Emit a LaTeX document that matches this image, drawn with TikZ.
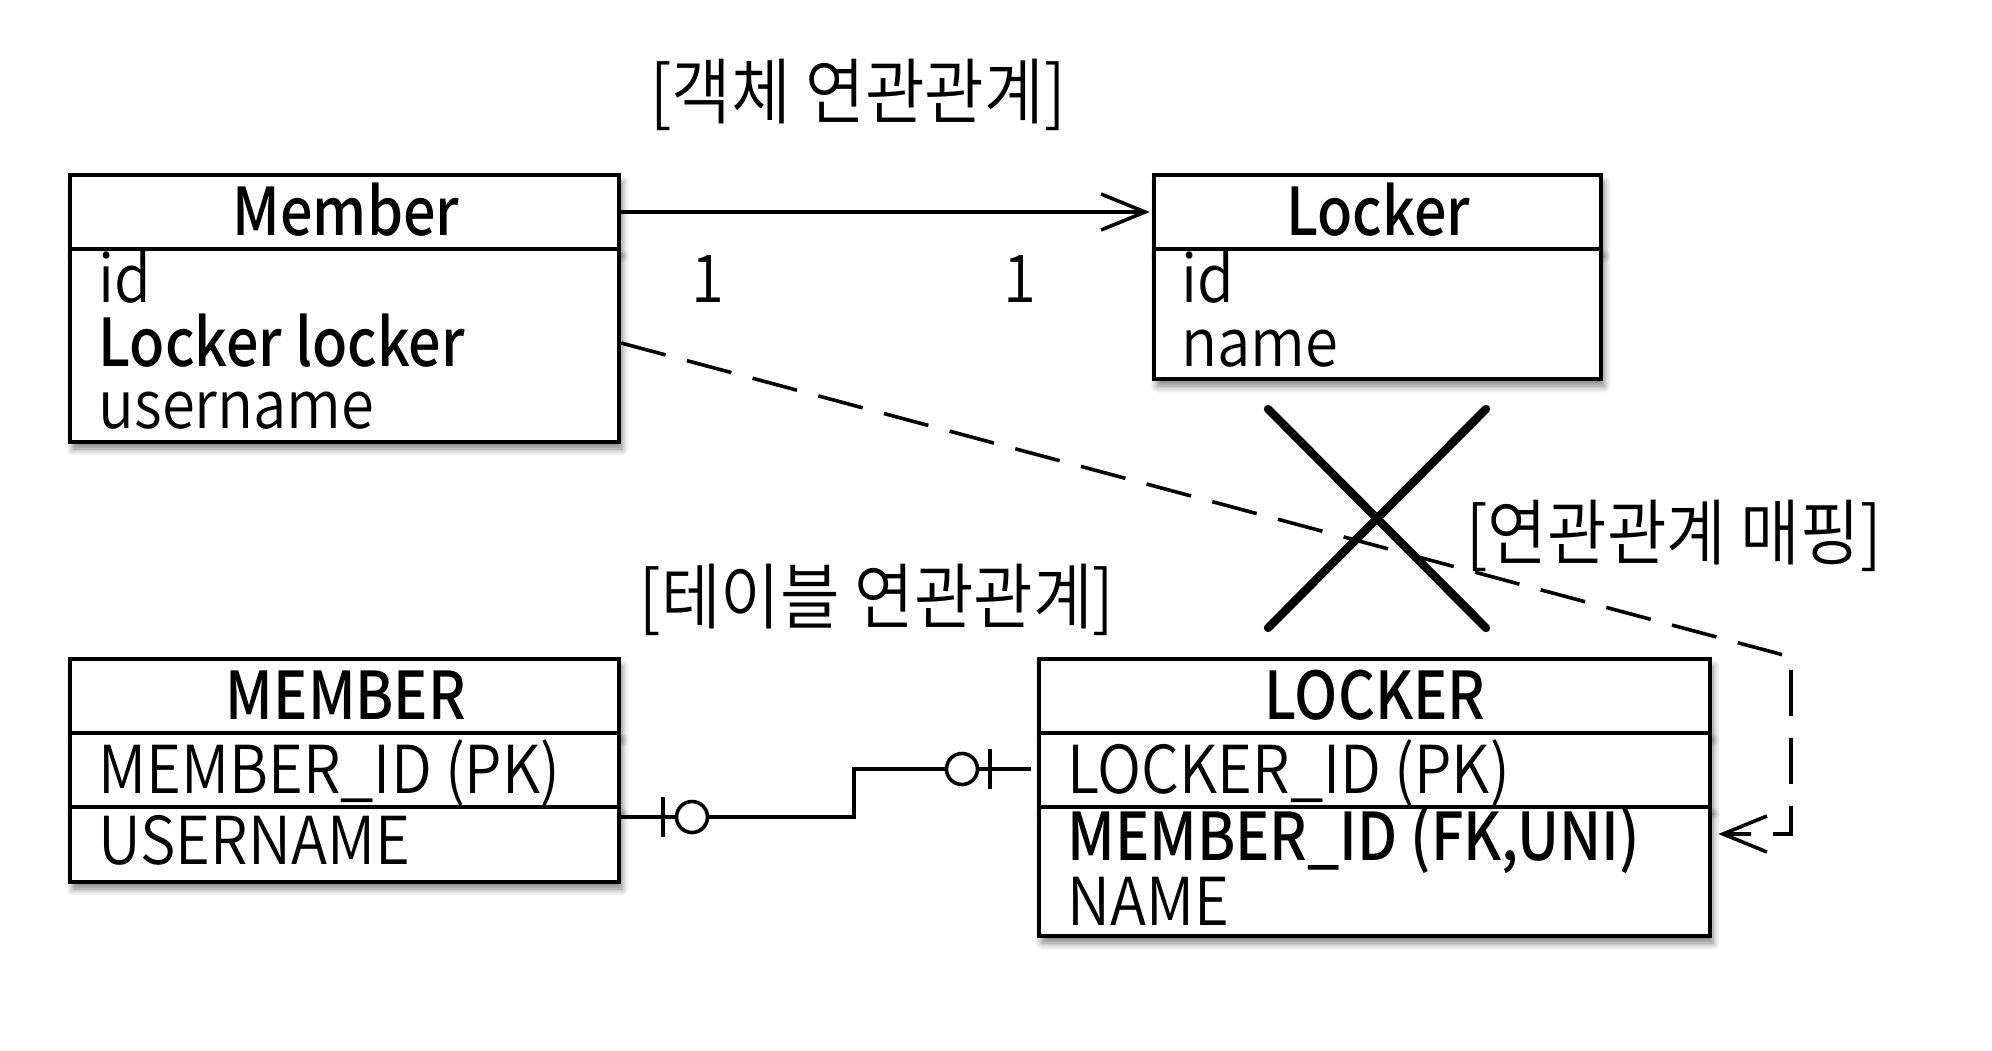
\documentclass[tikz,border=0pt]{standalone}
\usepackage{fontspec}
\setmainfont{Noto Sans CJK KR DemiLight}[FakeStretch=0.905, BoldFont={Noto Sans CJK KR Medium}, BoldFeatures={FakeStretch=0.87}]
\newfontfamily\korfont{Noto Sans CJK KR DemiLight}[FakeStretch=0.9]
\usetikzlibrary{arrows.meta,shadows.blur,fit}
\begin{document}
\begin{tikzpicture}[x=0.5pt,y=-0.5pt,
  box/.style={draw=black, line width=2.2pt, fill=white, inner sep=0pt,
    blur shadow={shadow xshift=1.5pt, shadow yshift=-3.5pt, shadow blur radius=3.5pt, shadow blur steps=6, shadow opacity=50}},
  headtxt/.style={anchor=base, inner sep=0pt, font=\fontsize{33}{40}\selectfont\bfseries},
  fieldtxt/.style={anchor=base west, inner sep=0pt, font=\fontsize{33}{40}\selectfont},
  boldfield/.style={anchor=base west, inner sep=0pt, font=\fontsize{33}{40}\selectfont\bfseries},
  titletxt/.style={inner sep=0pt, font=\fontsize{36}{42}\korfont},
  conn/.style={line width=1.8pt},
  openarrow/.style={-{Straight Barb[length=22pt,width=18pt,line width=1.8pt]}},
  dashline/.style={dash pattern=on 23pt off 11pt},
  crossline/.style={line width=4.2pt, line cap=round},
  ercircle/.style={draw, circle, line width=1.8pt, fill=white, minimum size=15.5pt, inner sep=0pt}
]
\useasboundingbox (0,0) rectangle (1992,1050);

% ---- titles
\node[titletxt] (t1) at (858,95) {[객체 연관관계]};
\node[titletxt] (t2) at (877,600) {[테이블 연관관계]};
\node[titletxt] (t3) at (1674,536) {[연관관계 매핑]};

% ---- Member (object)
\node[box, fit={(70,175) (619,249)}] (memberhead) {};
\node[box, fit={(70,249) (619,442)}] (memberbody) {};
\node[headtxt] (memberheadtxt) at (346,235) {Member};
\node[fieldtxt] (mid) at (98,302) {id};
\node[boldfield] (mlocker) at (98,366) {Locker locker};
\node[fieldtxt] (muser) at (98,428) {username};

% ---- Locker (object)
\node[box, fit={(1154,175) (1601,249)}] (lockerhead) {};
\node[box, fit={(1154,249) (1601,379)}] (lockerbody) {};
\node[headtxt] (lockerheadtxt) at (1378,235) {Locker};
\node[fieldtxt] (lid) at (1181,302) {id};
\node[fieldtxt] (lname) at (1181,366) {name};

% ---- MEMBER (table)
\node[box, fit={(70,659) (619,733)}] (MEMhead) {};
\node[box, fit={(70,733) (619,807)}] (MEMrow1) {};
\node[box, fit={(70,807) (619,882)}] (MEMrow2) {};
\node[headtxt] (MEMheadtxt) at (346,719) {MEMBER};
\node[fieldtxt] (MEMid) at (98,793) {MEMBER\_ID (PK)};
\node[fieldtxt] (MEMuser) at (98,864) {USERNAME};

% ---- LOCKER (table)
\node[box, fit={(1039,659) (1710,733)}] (LOChead) {};
\node[box, fit={(1039,733) (1710,807)}] (LOCrow1) {};
\node[box, fit={(1039,807) (1710,936)}] (LOCrow2) {};
\node[headtxt] (LOCheadtxt) at (1375,719) {LOCKER};
\node[fieldtxt] (LOCid) at (1067,793) {LOCKER\_ID (PK)};
\node[boldfield] (LOCfk) at (1067,860) {MEMBER\_ID (FK,UNI)};
\node[fieldtxt] (LOCname) at (1067,925) {NAME};

% ---- object association
\draw[conn, openarrow, shorten >=1pt] (memberhead.east) -- (lockerhead.west);
\node[fieldtxt, anchor=base] (one1) at (708,302) {1};
\node[fieldtxt, anchor=base] (one2) at (1020,302) {1};

% ---- cross
\coordinate (xa) at (1268,409);
\coordinate (xb) at (1486,628);
\coordinate (xc) at (1486,409);
\coordinate (xd) at (1268,628);
\draw[crossline] (xa) -- (xb);
\draw[crossline] (xc) -- (xd);

% ---- mapping dashed arrow
\coordinate (dStart) at (memberbody.east |- 0,343);
\coordinate (dC1) at (1791,657);
\coordinate (dC2) at (1791,834);
\coordinate (dEnd) at (LOCrow2.east |- dC2);
\draw[conn, dashline, openarrow, shorten >=3pt] (dStart) -- (dC1) -- (dC2) -- (dEnd);

% ---- table relation (ER)
\node[ercircle] (circ1) at (692,817) {};
\node[ercircle] (circ2) at (962,769) {};
\coordinate (erA) at (MEMrow2.east |- circ1.center);
\coordinate (erBend) at (854,817);
\coordinate (erEnd) at (LOCrow1.west |- circ2.center);
\draw[conn] (erA) -- (circ1.west);
\draw[conn] (circ1.east) -- (erBend) |- (circ2.west);
\draw[conn, shorten >=3pt] (circ2.east) -- (erEnd);
\draw[conn] ([xshift=-14.5pt,yshift=10pt]circ1.center) -- ([xshift=-14.5pt,yshift=-10pt]circ1.center);
\draw[conn] ([xshift=14pt,yshift=10pt]circ2.center) -- ([xshift=14pt,yshift=-10pt]circ2.center);
\end{tikzpicture}
\end{document}
